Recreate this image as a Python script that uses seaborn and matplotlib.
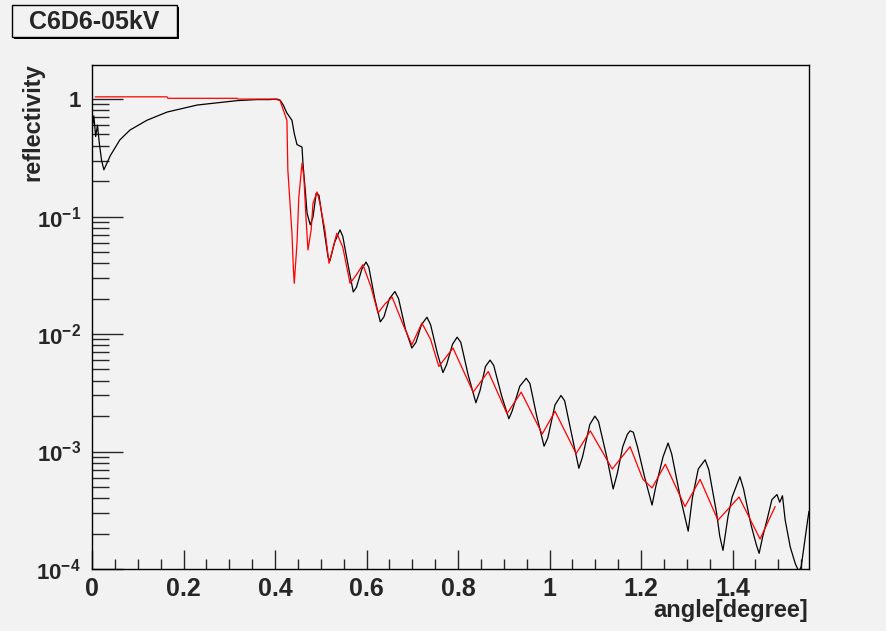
import matplotlib
matplotlib.use("Agg")
import matplotlib.pyplot as plt
import matplotlib.ticker as mticker
from matplotlib.patches import Rectangle
import numpy as np
import pandas as pd
import seaborn as sns

# Measured reflectivity (black)
meas_angle = [0.000, 0.004, 0.008, 0.012, 0.016, 0.021, 0.026, 0.040, 0.061, 0.083,
              0.120, 0.164, 0.230, 0.317, 0.360, 0.389, 0.404, 0.411, 0.418, 0.426,
              0.437, 0.442, 0.448, 0.459, 0.461, 0.466, 0.470, 0.477, 0.483, 0.490,
              0.496, 0.505, 0.516, 0.520, 0.530, 0.542, 0.548, 0.560, 0.571, 0.578,
              0.590, 0.599, 0.605, 0.618, 0.630, 0.638, 0.650, 0.662, 0.670, 0.685,
              0.699, 0.708, 0.720, 0.732, 0.740, 0.755, 0.767, 0.775, 0.788, 0.798,
              0.806, 0.822, 0.839, 0.848, 0.860, 0.870, 0.878, 0.895, 0.911, 0.918,
              0.935, 0.949, 0.957, 0.972, 0.988, 0.996, 1.012, 1.025, 1.033, 1.050,
              1.064, 1.072, 1.088, 1.099, 1.107, 1.125, 1.139, 1.148, 1.160, 1.170,
              1.176, 1.183, 1.192, 1.208, 1.224, 1.232, 1.248, 1.259, 1.267, 1.285,
              1.303, 1.312, 1.325, 1.340, 1.348, 1.365, 1.372, 1.379, 1.390, 1.399,
              1.416, 1.424, 1.440, 1.452, 1.458, 1.466, 1.475, 1.486, 1.497, 1.503,
              1.509, 1.515, 1.526, 1.537, 1.545, 1.550, 1.558, 1.564, 1.567]
meas_refl = [0.55, 0.72, 0.48, 0.60, 0.42, 0.30, 0.25, 0.33, 0.45, 0.545,
             0.66, 0.775, 0.89, 0.97, 0.99, 0.99, 1.0, 0.98, 0.89, 0.76,
             0.66, 0.51, 0.41, 0.39, 0.285, 0.168, 0.107, 0.085, 0.099, 0.158,
             0.152, 0.088, 0.045, 0.042, 0.060, 0.077, 0.068, 0.038, 0.0228, 0.025,
             0.036, 0.041, 0.037, 0.020, 0.0127, 0.014, 0.020, 0.023, 0.020, 0.011,
             0.0076, 0.0085, 0.012, 0.0139, 0.012, 0.0068, 0.0047, 0.0055, 0.0082, 0.0094,
             0.0085, 0.0045, 0.0026, 0.0033, 0.0053, 0.0060, 0.0054, 0.0030, 0.0019, 0.0022,
             0.0036, 0.0042, 0.0038, 0.0020, 0.00111, 0.0013, 0.0025, 0.0030, 0.0027, 0.0013,
             0.00072, 0.00090, 0.0017, 0.0020, 0.0018, 0.00090, 0.00048, 0.00065, 0.0011, 0.0014,
             0.0015, 0.00146, 0.0011, 0.00060, 0.00035, 0.00050, 0.00090, 0.00118, 0.00095, 0.00042,
             0.00021, 0.00040, 0.00071, 0.00085, 0.00070, 0.00030, 0.00019, 0.000144, 0.00028, 0.00041,
             0.00061, 0.00048, 0.00024, 0.00016, 0.000136, 0.00019, 0.00026, 0.00039, 0.00043, 0.00037,
             0.00042, 0.00026, 0.000154, 0.000111, 0.000095, 0.000105, 0.000177, 0.00026, 0.00031]

# Fitted reflectivity (red)
fit_angle = [0.007, 0.164, 0.166, 0.317, 0.319, 0.400, 0.411, 0.418, 0.426, 0.428,
             0.437, 0.440, 0.442, 0.448, 0.452, 0.459, 0.463, 0.468, 0.472, 0.479,
             0.483, 0.492, 0.498, 0.509, 0.518, 0.535, 0.548, 0.564, 0.578, 0.592,
             0.610, 0.625, 0.640, 0.656, 0.680, 0.699, 0.721, 0.740, 0.758, 0.789,
             0.833, 0.866, 0.907, 0.938, 0.984, 1.012, 1.058, 1.089, 1.137, 1.176,
             1.204, 1.224, 1.253, 1.296, 1.329, 1.368, 1.414, 1.460, 1.493]
fit_refl = [1.045, 1.045, 1.015, 1.015, 1.0, 1.0, 0.97, 0.81, 0.66, 0.25,
            0.072, 0.037, 0.027, 0.059, 0.146, 0.285, 0.217, 0.093, 0.052, 0.077,
            0.13, 0.162, 0.13, 0.077, 0.04, 0.072, 0.055, 0.027, 0.032, 0.039,
            0.025, 0.0151, 0.018, 0.0206, 0.012, 0.0081, 0.0124, 0.009, 0.0053, 0.0076,
            0.0032, 0.0048, 0.0021, 0.0032, 0.00141, 0.0022, 0.00096, 0.0015, 0.00071, 0.0011,
            0.00058, 0.00049, 0.00078, 0.00034, 0.00058, 0.00026, 0.00041, 0.00018, 0.00034]

title_text = "C6D6-05kV"
x_label = "angle[degree]"
y_label = "reflectivity"

sns.set_theme(style="ticks")
bg = "#f2f2f2"
plt.rcParams.update({
    "font.family": ["Liberation Sans", "DejaVu Sans"],
    "font.weight": "bold",
    "mathtext.fontset": "custom",
    "mathtext.rm": "Liberation Sans:bold",
    "mathtext.it": "Liberation Sans:bold",
    "mathtext.bf": "Liberation Sans:bold",
    "mathtext.default": "rm",
    "axes.edgecolor": "black",
    "axes.linewidth": 1.0,
})

fig = plt.figure(figsize=(8.86, 6.31), dpi=100, facecolor=bg)
ax = fig.add_axes([92 / 886, 62 / 631, 717 / 886, 504 / 631])
ax.set_facecolor(bg)

meas = pd.DataFrame({"angle": meas_angle, "refl": meas_refl})
fit = pd.DataFrame({"angle": fit_angle, "refl": fit_refl})
sns.lineplot(data=meas, x="angle", y="refl", ax=ax, color="black",
             linewidth=0.9, estimator=None, sort=False)
sns.lineplot(data=fit, x="angle", y="refl", ax=ax, color="#ff0000",
             linewidth=0.9, estimator=None, sort=False)

ax.set_yscale("log")
ax.set_xlim(0, 1.567)
ax.set_ylim(1e-4, 1.95)


def decade_fmt(v, pos):
    e = int(round(np.log10(v)))
    return "1" if e == 0 else r"$10^{%d}$" % e


ax.yaxis.set_major_locator(mticker.LogLocator(base=10, numticks=10))
ax.yaxis.set_minor_locator(mticker.LogLocator(base=10, subs=np.arange(2, 10), numticks=20))
ax.yaxis.set_major_formatter(mticker.FuncFormatter(decade_fmt))
ax.yaxis.set_minor_formatter(mticker.NullFormatter())
ax.xaxis.set_major_locator(mticker.MultipleLocator(0.2))
ax.xaxis.set_minor_locator(mticker.MultipleLocator(0.05))
ax.xaxis.set_major_formatter(mticker.FuncFormatter(lambda v, p: "%g" % round(v, 2)))

ax.tick_params(axis="y", which="major", direction="in", length=22, width=1, pad=8, labelsize=16)
ax.tick_params(axis="y", which="minor", direction="in", length=12, width=1)
ax.tick_params(axis="x", which="major", direction="in", length=14, width=1, pad=6, labelsize=18)
ax.tick_params(axis="x", which="minor", direction="in", length=7, width=1)
for lab in ax.get_xticklabels() + ax.get_yticklabels():
    lab.set_fontweight("bold")

ax.set_xlabel("")
ax.set_ylabel("")
for s in ax.spines.values():
    s.set_visible(True)

fig.text(808 / 886, 1 - 611 / 631, x_label, ha="right", va="center",
         fontsize=17, fontweight="bold")
fig.text(33 / 886, 1 - 122 / 631, y_label, ha="center", va="center",
         rotation=90, fontsize=17, fontweight="bold")

# Title box with drop shadow
fig.patches.append(Rectangle((14 / 886, 1 - 39 / 631), 165 / 886, 32 / 631,
                             transform=fig.transFigure, facecolor="black",
                             edgecolor="none", zorder=1))
fig.patches.append(Rectangle((12 / 886, 1 - 37 / 631), 165 / 886, 32 / 631,
                             transform=fig.transFigure, facecolor=bg,
                             edgecolor="black", linewidth=1.0, zorder=2))
fig.text(94 / 886, 1 - 22 / 631, title_text, ha="center", va="center",
         fontsize=18, fontweight="bold", zorder=3)

fig.savefig("out.png", dpi=100, facecolor=bg)
